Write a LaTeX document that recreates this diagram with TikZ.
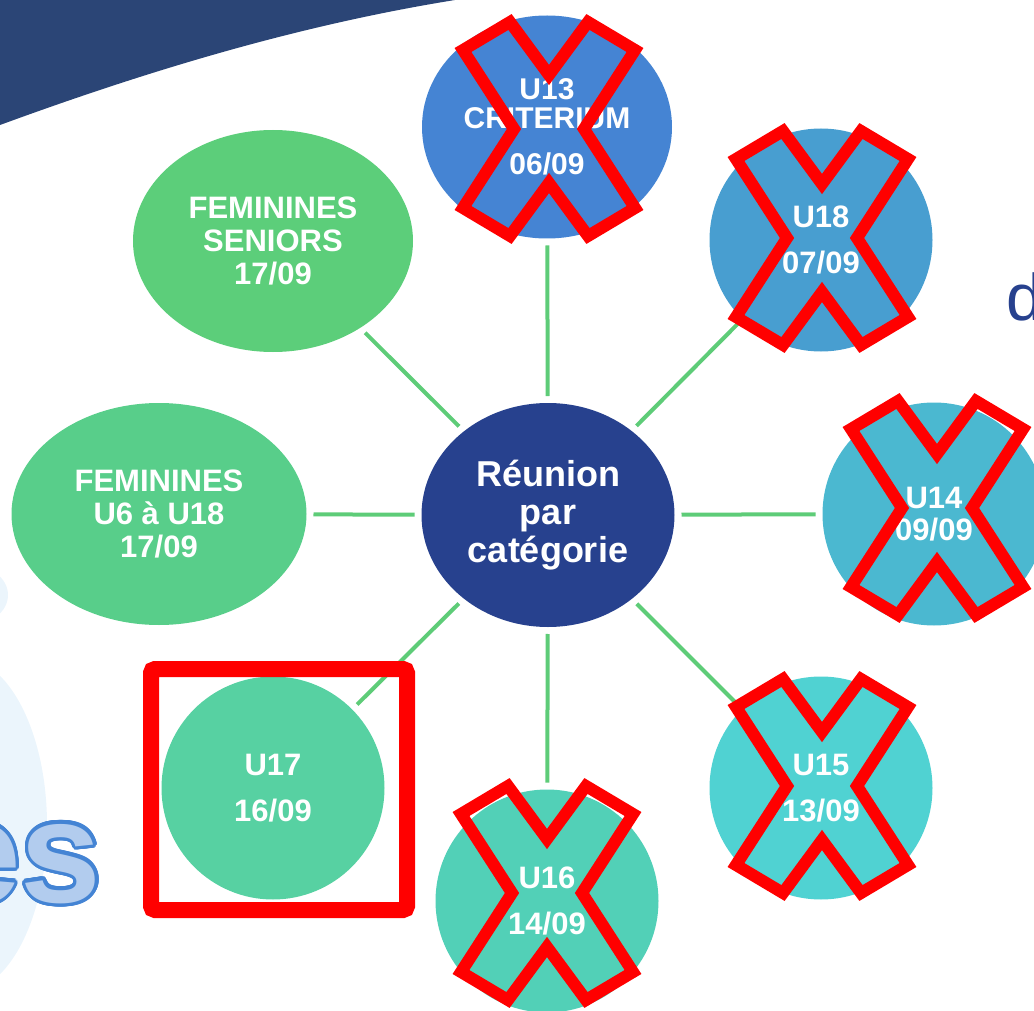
\documentclass[tikz,border=0pt]{standalone}
\usepackage{fontspec}
\setmainfont{Liberation Sans}
\usepackage{xcolor}
\usepackage{tikz}
\usetikzlibrary{positioning,shapes.geometric}

\definecolor{banner}{RGB}{43,69,118}
\definecolor{hubblue}{RGB}{39,65,142}
\definecolor{spoke}{RGB}{94,204,120}
\definecolor{haze}{RGB}{235,245,252}
\definecolor{esfill}{RGB}{178,204,238}
\definecolor{esline}{RGB}{68,132,212}
\definecolor{cseniors}{RGB}{92,206,122}
\definecolor{cfemu}{RGB}{88,206,138}
\definecolor{cu17}{RGB}{87,209,162}
\definecolor{cu16}{RGB}{82,208,183}
\definecolor{cu15}{RGB}{80,210,210}
\definecolor{cu14}{RGB}{75,184,208}
\definecolor{cu18}{RGB}{72,158,208}
\definecolor{cu13}{RGB}{69,132,211}

\begin{document}
\begin{tikzpicture}[
  x=1pt, y=-1pt,
  cat/.style={circle, fill=#1, text=white, inner sep=0pt, outer sep=0pt, minimum size=223pt, align=center, font=\bfseries\fontsize{31}{46}\selectfont},
  fem/.style={ellipse, fill=#1, text=white, inner sep=0pt, outer sep=0pt, minimum height=222pt, align=center, font=\bfseries\fontsize{31}{33}\selectfont},
  hub/.style={ellipse, fill=hubblue, text=white, inner sep=0pt, outer sep=0pt, minimum width=253pt, minimum height=224pt, align=center, font=\bfseries\fontsize{36}{38}\selectfont},
  link/.style={draw=spoke, line width=4pt, shorten <=7pt, shorten >=7pt},
  redx/.style={draw=red, line width=12pt, line join=miter},
  estext/.style={anchor=base west, inner sep=0pt, font=\bfseries\fontsize{145}{145}\selectfont}
]
\useasboundingbox (0,0) rectangle (1034,1011);

% backdrop
\fill[banner] (0,0) -- (455,0) .. controls (300,25) and (150,70) .. (0,125) -- cycle;
\fill[haze] (-40,825) ellipse [x radius=87, y radius=168];
\fill[haze] (-30,595) ellipse [x radius=38, y radius=30];
\foreach \a in {0,15,...,345}
  \node[estext, text=esline] (es-\a) at ([shift={(\a:3.5)}] -60,902) {es};
\node[estext, text=esfill] (es) at (-60,902) {es};
\node[anchor=base west, inner sep=0pt, text=hubblue, font=\fontsize{66}{66}\selectfont] (dletter) at (1006,320) {d};

% categories
\node[hub] (hub) at (548,515) {Réunion\\{par}\\catégorie};
\node[ellipse, fill=cu13, text=white, inner sep=0pt, outer sep=0pt, minimum width=250pt, minimum height=223pt, align=center, font=\bfseries\fontsize{30}{29}\selectfont] (u13) at (547,127) {U13\\CRITERIUM\\[17pt]06/09};
\node[cat=cu18] (u18) at (821,240) {U18\\07/09};
\node[cat=cu14, font=\bfseries\fontsize{31}{32}\selectfont] (u14) at (934,514) {U14\\09/09};
\node[cat=cu15] (u15) at (821,788) {U15\\13/09};
\node[cat=cu16] (u16) at (547,901) {U16\\14/09};
\node[cat=cu17] (u17) at (273,788) {U17\\16/09};
\node[fem=cfemu, minimum width=295pt] (femu) at (159,514) {FEMININES\\U6 à U18\\17/09};
\node[fem=cseniors, minimum width=280pt] (fems) at (273,241) {FEMININES\\SENIORS\\17/09};

\foreach \n in {u13,u18,u14,u15,u16,u17,femu,fems}
  \draw[link] (hub) -- (\n);

% crossed out
\foreach \cx/\cy in {549/129, 822/238, 937/508, 822/786, 547/893}
  \draw[redx, shift={(\cx,\cy)}] (-86,-79) -- (-39,-107) -- (0,-54) -- (39,-107) -- (86,-79) -- (35,0)
    -- (86,79) -- (39,107) -- (0,54) -- (-39,107) -- (-86,79) -- (-35,0) -- cycle;

\draw[draw=red, line width=16pt, rounded corners=4pt] (151,669) rectangle (407,910);
\end{tikzpicture}
\end{document}
